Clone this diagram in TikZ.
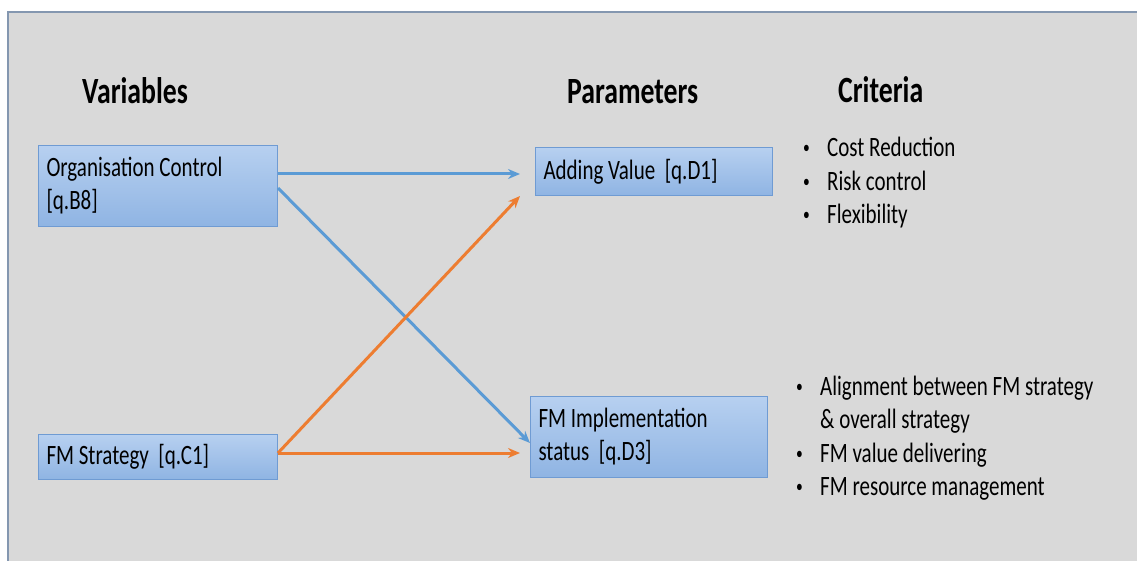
\documentclass[tikz,border=0pt]{standalone}
\usepackage{fontspec}
\setmainfont{Carlito}[FakeStretch = 0.75]
\usetikzlibrary{arrows.meta}

\definecolor{panelgray}{HTML}{D9D9D9}
\definecolor{panelline}{HTML}{8497B0}
\definecolor{boxtop}{HTML}{B7D0F0}
\definecolor{boxbottom}{HTML}{8FB4E3}
\definecolor{boxline}{HTML}{6F9BD3}
\definecolor{linkblue}{HTML}{5B9BD5}
\definecolor{linkorange}{HTML}{ED7D31}

\newcommand{\critem}{\makebox[24pt][l]{\raisebox{3pt}{\fontsize{18}{18}\selectfont\textbullet}}}

\begin{document}
\begin{tikzpicture}[x = 1pt, y = -1pt,
    head/.style = {font = \fontsize{37}{40}\selectfont\bfseries,
                   anchor = base west, inner sep = 0pt},
    varbox/.style = {draw = boxline, line width = 1pt,
                     top color = boxtop, bottom color = boxbottom,
                     anchor = north west, align = left,
                     inner xsep = 8pt, inner ysep = 0pt,
                     font = \fontsize{28}{33}\selectfont,
                     execute at begin node = {\spaceskip = 0pt\xspaceskip = 0pt\relax}},
    crit/.style = {anchor = base west, inner sep = 0pt,
                   font = \fontsize{28}{33.5}\selectfont},
    link/.style = {line width = 3pt, -{Stealth[length = 12pt, width = 10pt]}}]
      \useasboundingbox (0,0) rectangle (1137,561);
      \fill [white] (0,0) rectangle (1137,561);
      \fill [panelgray] (8,12) rectangle (1137,561);
      \draw [panelline, line width = 1.5pt] (8,561) -- (8,12) -- (1137,12);

      % column heads
      \node [head] (varhead) at (82,104) {Variables};
      \node [head] (parhead) at (567,104) {Parameters};
      \node [head] (crithead) at (838,103) {Criteria};

      % boxes
      \node [varbox, text width = 223pt, minimum height = 81pt]
        (org) at (38,145) {Organisation Control\\{[q.B8]}};
      \node [varbox, text width = 223pt, minimum height = 45pt]
        (strat) at (38,434) {FM Strategy\ \ [q.C1]};
      \node [varbox, text width = 221pt, minimum height = 48pt]
        (av) at (535,147) {Adding Value\ \ [q.D1]};
      \node [varbox, text width = 221pt, minimum height = 81pt]
        (impl) at (530,396) {FM Implementation\\status\ \ [q.D3]};

      % criteria lists
      \node [crit] (crita) at (803,157) {\begin{tabular}[t]{@{}l@{}}
          \critem Cost Reduction\\ \critem Risk control\\ \critem Flexibility
        \end{tabular}};
      \node [crit] (critb) at (796,395) {\begin{tabular}[t]{@{}l@{}}
          \critem Alignment between FM strategy\\ \hspace*{24pt}\& overall strategy\\
          \critem FM value delivering\\ \critem FM resource management
        \end{tabular}};

      % links
      \coordinate (orgout) at ([yshift = 12pt] org.east);
      \coordinate (stratout) at ([yshift = 4pt] strat.east);
      \draw [link, linkblue, shorten > = 15pt] (orgout) -- (orgout -| av.west);
      \draw [link, linkblue] ([yshift = -2pt] org.east) -- ([yshift = -6pt] impl.west);
      \draw [link, linkorange] (stratout) -- ([xshift = -15pt] av.south west);
      \draw [link, linkorange, shorten > = 10pt] (stratout) -- (stratout -| impl.west);
\end{tikzpicture}
\end{document}
